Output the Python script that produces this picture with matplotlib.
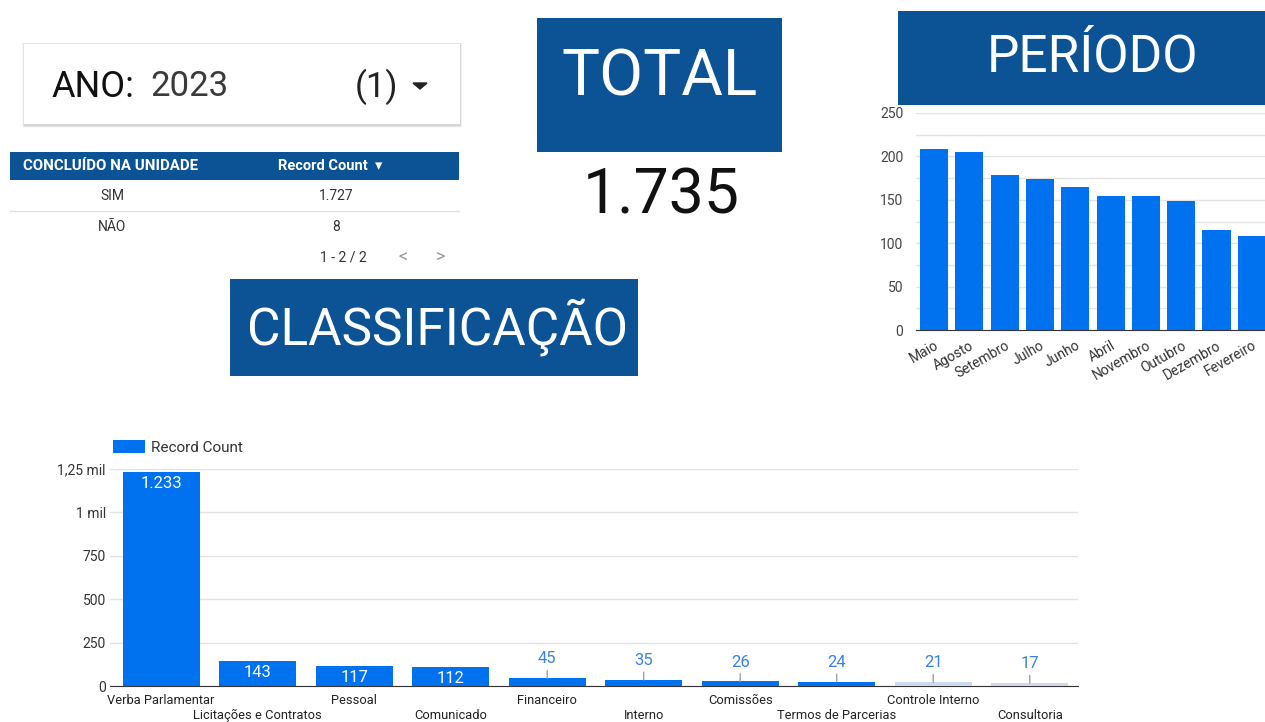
import matplotlib
matplotlib.use('Agg')
import matplotlib.pyplot as plt
from matplotlib.patches import Rectangle, Polygon
import numpy as np

plt.rcParams['font.family'] = ['Roboto', 'DejaVu Sans']

# --- dados ---
ano = '2023'
situacao = ['SIM', 'NÃO']
contagem = [1727, 8]
total = 1735

meses = ['Maio', 'Agosto', 'Setembro', 'Julho', 'Junho', 'Abril',
         'Novembro', 'Outubro', 'Dezembro', 'Fevereiro']
mes_vals = [209, 205, 179, 174, 165, 154, 154, 149, 115, 108]

classes = ['Verba Parlamentar', 'Licitações e Contratos', 'Pessoal', 'Comunicado',
           'Financeiro', 'Interno', 'Comissões', 'Termos de Parcerias',
           'Controle Interno', 'Consultoria']
class_vals = [1233, 143, 117, 112, 45, 35, 26, 24, 21, 17]
class_yticks = [0, 250, 500, 750, 1000, 1250]
class_ylabels = ['0', '250', '500', '750', '1 mil', '1,25 mil']

AZUL = '#0072f0'
CLARO = '#c9d9ee'
ESCURO = '#0b5394'
W, H = 1265, 722


def br(n):
    return f'{n:,}'.replace(',', '.')


fig = plt.figure(figsize=(W / 100, H / 100), dpi=100)
fig.patch.set_facecolor('white')

# camada de fundo em pixels
ov = fig.add_axes([0, 0, 1, 1])
ov.set_xlim(0, W)
ov.set_ylim(H, 0)
ov.axis('off')

# filtro ANO (com sombra suave)
for k, a in [(4, 0.025), (3, 0.035), (2, 0.045), (1, 0.06)]:
    ov.add_patch(Rectangle((24 - k * 0.5, 44 - k * 0.3), 436 + k, 81 + k * 1.1,
                           color='black', alpha=a, lw=0))
ov.add_patch(Rectangle((24, 44), 436, 80, color='white', lw=0))
ov.text(51, 87, 'ANO:', fontsize=26, color='#111111', va='center', ha='left')
ov.text(150, 87, ano, fontsize=25, color='#3a3a3a', va='center', ha='left')
ov.text(355, 87, '(1)', fontsize=25, color='#222222', va='center', ha='left')
ov.add_patch(Polygon([(413, 83), (427, 83), (420, 89)], color='#222222'))

# tabela
ov.add_patch(Rectangle((10, 152), 449, 28, color=ESCURO, lw=0))
ov.text(23, 166, 'CONCLUÍDO NA UNIDADE', fontsize=10.8, fontweight='bold',
        color='white', va='center', ha='left')
ov.text(330, 166, 'Record Count  ▾', fontsize=10.5, fontweight='bold',
        color='white', va='center', ha='center')
for i, (s, c) in enumerate(zip(situacao, contagem)):
    y = 196 + i * 31
    ov.text(112, y, s, fontsize=10, color='#333333', va='center', ha='center')
    ov.text(336, y, br(c), fontsize=10, color='#333333', va='center', ha='center')
ov.plot([10, 459], [211, 211], color='#e0e0e0', lw=1)
ov.text(343, 258, '1 - 2 / 2', fontsize=10, color='#333333', va='center', ha='center')
ov.text(403, 258, '<', fontsize=13, color='#9a9a9a', va='center', ha='center')
ov.text(441, 258, '>', fontsize=13, color='#9a9a9a', va='center', ha='center')

# TOTAL
ov.add_patch(Rectangle((537, 18), 245, 134, color=ESCURO, lw=0))
ov.text(660, 77, 'TOTAL', fontsize=46, color='white', va='center', ha='center')
ov.text(661, 196, br(total), fontsize=45, color='#111111', va='center', ha='center')

# PERÍODO
ov.add_patch(Rectangle((898, 11), 367, 94, color=ESCURO, lw=0))
ov.text(1093, 58, 'PERÍODO', fontsize=37, color='white', va='center', ha='center')

# CLASSIFICAÇÃO
ov.add_patch(Rectangle((230, 279), 408, 97, color=ESCURO, lw=0))
ov.text(438, 327, 'CLASSIFICAÇÃO', fontsize=37, color='white', va='center', ha='center')

# --- gráfico período ---
ax1 = fig.add_axes([916 / W, 1 - 330 / H, (W - 916) / W, (330 - 113) / H])
ax1.set_facecolor('none')
x1 = np.arange(len(meses))
ax1.bar(x1, mes_vals, width=0.8, color=AZUL, zorder=3)
ax1.set_xlim(-0.51, 9.37)
ax1.set_ylim(0, 250)
ax1.set_yticks(np.arange(0, 251, 50))
ax1.set_yticks(np.arange(25, 250, 50), minor=True)
ax1.grid(axis='y', which='both', color='#e3e3e3', lw=1, zorder=0)
for s in ['top', 'right', 'left']:
    ax1.spines[s].set_visible(False)
ax1.spines['bottom'].set_color('#333333')
ax1.tick_params(axis='y', which='both', length=0, pad=9, labelsize=10, labelcolor='#444444')
ax1.set_xticks(x1)
ax1.set_xticklabels(meses, rotation=30, ha='right', rotation_mode='anchor',
                    fontsize=10, color='#333333')
ax1.tick_params(axis='x', length=0, pad=6)

# --- gráfico classificação ---
ax2 = fig.add_axes([110 / W, 1 - 686 / H, (1078 - 110) / W, (686 - 469) / H])
ax2.set_facecolor('none')
x2 = np.arange(len(classes))
cores = [AZUL if i < 8 else CLARO for i in range(len(classes))]
ax2.bar(x2, class_vals, width=0.8, color=cores, zorder=3, label='Record Count')
ax2.set_xlim(-0.53, 9.5)
ax2.set_ylim(0, 1250)
ax2.set_yticks(class_yticks)
ax2.set_yticklabels(class_ylabels)
ax2.grid(axis='y', color='#e3e3e3', lw=1, zorder=0)
for s in ['top', 'right', 'left']:
    ax2.spines[s].set_visible(False)
ax2.spines['bottom'].set_color('#333333')
ax2.tick_params(axis='y', length=0, pad=3, labelsize=10, labelcolor='#333333')
# rótulos em duas linhas alternadas
ax2.set_xticks(x2[::2])
ax2.set_xticklabels(classes[::2], fontsize=9.3, color='#222222')
ax2.set_xticks(x2[1::2], minor=True)
ax2.set_xticklabels(classes[1::2], minor=True, fontsize=9.3, color='#222222')
ax2.tick_params(axis='x', which='major', length=0, pad=6)
ax2.tick_params(axis='x', which='minor', length=0, pad=16.5)

for xi, v in zip(x2, class_vals):
    if v > 100:
        ax2.annotate(br(v), (xi, v), xytext=(0, -3), textcoords='offset points',
                     ha='center', va='top', color='white', fontsize=12, zorder=4)
    else:
        ax2.annotate(br(v), (xi, v), xytext=(0, 14), textcoords='offset points',
                     ha='center', va='center', color='#3b82e0', fontsize=12,
                     arrowprops=dict(arrowstyle='-', color='#a0a0a0', lw=1,
                                     shrinkA=1, shrinkB=0))

leg = ax2.legend(loc='lower left', bbox_to_anchor=(0.003, 1.065), frameon=False,
                 fontsize=11, handlelength=2.1, handleheight=1.0, handletextpad=0.4,
                 borderaxespad=0, borderpad=0)
for t in leg.get_texts():
    t.set_color('#333333')

fig.savefig('out.png', dpi=100, facecolor='white')
